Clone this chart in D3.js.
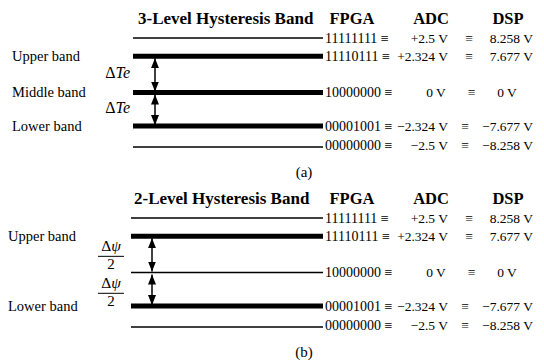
<!DOCTYPE html>
<html>
<head>
<meta charset="UTF-8">
<title>Hysteresis bands</title>
<script src="https://d3js.org/d3.v7.min.js"></script>
<style>
  body { margin: 0; background: #fff; }
  svg text { font-family: "Liberation Serif", "Times New Roman", serif; fill: #000; }
  .title { font-weight: bold; font-size: 17px; }
  .head { font-weight: bold; font-size: 16.5px; }
  .code { font-size: 14px; }
  .val { font-size: 13.5px; }
  .lbl { font-size: 14.5px; }
</style>
</head>
<body>
<div id="chart"></div>
<script>
// quantisation levels, top to bottom
var levelCodes = ["11111111", "11110111", "10000000", "00001001", "00000000"];
var adcLabels = ["+2.5 V", "+2.324 V", "0 V", "\u22122.324 V", "\u22122.5 V"];
var dspLabels = ["8.258 V", "7.677 V", "0 V", "\u22127.677 V", "\u22128.258 V"];
// schematic (not to scale) spacing of the levels in the drawing
var levelRank = [0, 1, 3, 4.85, 6];
var columnHeads = ["FPGA", "ADC", "DSP"];

var panelTitles = ["3-Level Hysteresis Band", "2-Level Hysteresis Band"];
var panelCaptions = ["(a)", "(b)"];
// which levels are hysteresis bands in each panel
var bandLevelsA = [1, 2, 3];
var bandNamesA = ["Upper band", "Middle band", "Lower band"];
var bandLevelsB = [1, 3];
var bandNamesB = ["Upper band", "Lower band"];
// arrows between pairs of levels
var arrowPairs = [[1, 2], [2, 3]];

var W = 544, H = 362;
var svg = d3.select("#chart").append("svg")
  .attr("width", W).attr("height", H);

var defs = svg.append("defs");
defs.append("marker")
  .attr("id", "head")
  .attr("viewBox", "0 0 10 8")
  .attr("refX", 10).attr("refY", 4)
  .attr("markerUnits", "userSpaceOnUse")
  .attr("markerWidth", 10).attr("markerHeight", 8)
  .attr("orient", "auto-start-reverse")
  .append("path").attr("d", "M0,0L10,4L0,8Z").attr("fill", "#000");

var y = d3.scaleLinear().domain([0, 6]).range([38, 147]);
var lineRight = 323;
var colX = { adcRight: 448, dspRight: 533, adcMid: 436, dspMid: 507 };

function drawPanel(i, bands, names, left) {
  var g = svg.append("g").attr("transform", "translate(0," + (i * 180) + ")");
  var x0 = left.line;

  // headers
  g.append("text").attr("class", "title").attr("x", left.title).attr("y", 24)
    .text(panelTitles[i]);
  var headX = [352, 431, 508];
  g.selectAll(".colhead").data(columnHeads).enter().append("text")
    .attr("class", "head").attr("text-anchor", "middle")
    .attr("x", function(d, k) { return headX[k]; }).attr("y", 24)
    .text(function(d) { return d; });

  // level lines
  g.selectAll(".lvl").data(levelCodes).enter().append("line")
    .attr("x1", x0).attr("x2", lineRight)
    .attr("y1", function(d, k) { return y(levelRank[k]); })
    .attr("y2", function(d, k) { return y(levelRank[k]); })
    .attr("stroke", "#000")
    .attr("stroke-width", function(d, k) { return bands.indexOf(k) >= 0 ? 5 : 1.5; });

  // right hand value table
  levelCodes.forEach(function(code, k) {
    var yy = y(levelRank[k]) + (k === levelCodes.length - 1 ? 3 : 4.5);
    g.append("text").attr("class", "code").attr("x", lineRight + 2).attr("y", yy)
      .text(code + " \u2261");
    var zero = adcLabels[k] === "0 V";
    var a = g.append("text").attr("class", "val").attr("y", yy)
      .attr("text-anchor", zero ? "middle" : "end")
      .attr("x", zero ? colX.adcMid : colX.adcRight).text(adcLabels[k]);
    var dz = dspLabels[k] === "0 V";
    var b = g.append("text").attr("class", "val").attr("y", yy)
      .attr("text-anchor", dz ? "middle" : "end")
      .attr("x", dz ? colX.dspMid : colX.dspRight).text(dspLabels[k]);
    var ab = a.node().getBBox(), bb = b.node().getBBox();
    g.append("text").attr("class", "val").attr("text-anchor", "middle")
      .attr("x", (ab.x + ab.width + bb.x) / 2).attr("y", yy).text("\u2261");
  });

  // band names
  g.selectAll(".bname").data(names).enter().append("text")
    .attr("class", "lbl").attr("x", left.label)
    .attr("y", function(d, k) { return y(levelRank[bands[k]]) + 4.5; })
    .text(function(d) { return d; });

  // arrows
  arrowPairs.forEach(function(p, n) {
    var ya = y(levelRank[p[0]]), yb = y(levelRank[p[1]]);
    g.append("line").attr("x1", left.arrow).attr("x2", left.arrow)
      .attr("y1", ya + 2).attr("y2", yb - 1)
      .attr("stroke", "#000").attr("stroke-width", 1.5)
      .attr("marker-start", "url(#head)").attr("marker-end", "url(#head)");
    var mid = (ya + yb) / 2;
    if (i === 0) {
      var t = g.append("text").attr("class", "lbl").attr("text-anchor", "end")
        .attr("x", 130).attr("y", mid + 4).style("font-size", "16px");
      t.append("tspan").text("\u0394");
      t.append("tspan").style("font-style", "italic").text("Te");
    } else {
      // stacked fraction  delta-psi over 2
      var fx = 111, fl = mid + (n === 0 ? 2 : 4);
      var t2 = g.append("text").attr("class", "lbl").attr("text-anchor", "middle")
        .attr("x", fx).attr("y", fl - 5).style("font-size", "15.5px");
      t2.append("tspan").text("\u0394");
      t2.append("tspan").style("font-style", "italic").text("\u03c8");
      g.append("line").attr("x1", fx - 13).attr("x2", fx + 13)
        .attr("y1", fl).attr("y2", fl).attr("stroke", "#000").attr("stroke-width", 1);
      g.append("text").attr("class", "lbl").attr("text-anchor", "middle")
        .attr("x", fx).attr("y", fl + 13).style("font-size", "15px").text("2");
    }
  });

  // caption
  g.append("text").attr("class", "lbl").attr("text-anchor", "middle")
    .attr("x", 304).attr("y", 177).style("font-size", "15px")
    .text(panelCaptions[i]);
}

drawPanel(0, bandLevelsA, bandNamesA, { line: 133, title: 138, label: 12, arrow: 155 });
drawPanel(1, bandLevelsB, bandNamesB, { line: 131, title: 134, label: 8, arrow: 152 });
</script>
</body>
</html>
